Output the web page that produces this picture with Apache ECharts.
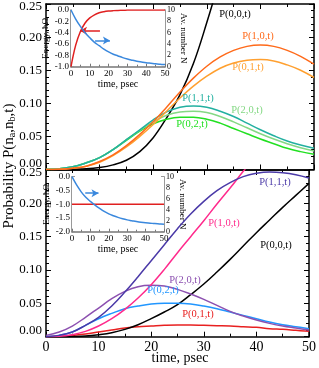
<!DOCTYPE html>
<html><head><meta charset="utf-8">
<script src="https://cdn.jsdelivr.net/npm/echarts@6/dist/echarts.min.js"></script>
<style>html,body{margin:0;padding:0;background:#fff}#c{width:319px;height:368px}</style>
</head><body><div id="c"></div>
<script>
// ---- data ----
const times = [0,2.5,5,7.5,10,12.5,15,17.5,20,22.5,25,27.5,30,32.5,35,37.5,40,42.5,45,47.5,50];
// top panel
const topP000 = [0,0,0.0005,0.001,0.003,0.007,0.014,0.027,0.048,0.078,0.113,0.16,0.222,0.29];
const topP100 = [0,0.0003,0.002,0.005,0.012,0.022,0.036,0.053,0.072,0.094,0.117,0.138,0.156,0.170,0.180,0.186,0.188,0.186,0.180,0.171,0.159];
const topP010 = [0,0.0003,0.002,0.005,0.011,0.021,0.034,0.050,0.068,0.088,0.108,0.126,0.141,0.153,0.161,0.165,0.166,0.164,0.158,0.150,0.139];
const topP110 = [0,0.001,0.004,0.010,0.018,0.030,0.045,0.060,0.075,0.087,0.094,0.096,0.094,0.088,0.080,0.070,0.060,0.051,0.043,0.037,0.032];
const topP200 = [0,0.001,0.004,0.010,0.018,0.030,0.045,0.059,0.072,0.082,0.087,0.088,0.086,0.080,0.072,0.063,0.054,0.046,0.039,0.033,0.028];
const topP020 = [0,0.001,0.004,0.010,0.018,0.030,0.044,0.058,0.069,0.076,0.079,0.079,0.076,0.070,0.062,0.054,0.046,0.039,0.032,0.027,0.023];
// bottom panel
const botP110 = [0,0.002,0.007,0.017,0.029,0.046,0.067,0.090,0.114,0.138,0.162,0.184,0.203,0.219,0.231,0.240,0.245,0.247,0.246,0.243,0.238];
const botP100 = [0,0.0005,0.003,0.008,0.016,0.027,0.041,0.058,0.078,0.101,0.126,0.150,0.174,0.199,0.223,0.248,0.272];
const botP000 = [0,0,0.0003,0.001,0.003,0.006,0.011,0.018,0.027,0.037,0.048,0.063,0.079,0.097,0.116,0.136,0.156,0.175,0.194,0.212,0.230];
const botP200 = [0.002,0.007,0.016,0.029,0.043,0.057,0.068,0.075,0.077,0.076,0.071,0.064,0.056,0.047,0.038,0.031,0.025,0.020,0.016,0.013,0.010];
const botP020 = [0,0.002,0.007,0.017,0.027,0.035,0.042,0.046,0.049,0.050,0.050,0.049,0.046,0.042,0.037,0.032,0.027,0.022,0.018,0.015,0.012];
const botP010 = [0,0.0005,0.002,0.004,0.007,0.010,0.013,0.015,0.016,0.017,0.0175,0.0175,0.017,0.0165,0.016,0.015,0.014,0.012,0.011,0.0095,0.008];
// insets
const topEnergy = [-1,-0.62,-0.38,-0.23,-0.14,-0.085,-0.05,-0.03,-0.018,-0.011,-0.007,-0.004,-0.002,-0.001,0,0,0,0,0,0,0];
const topNumber = [10,8.4,7.1,6.0,5.1,4.3,3.7,3.1,2.6,2.2,1.9,1.6,1.35,1.15,0.97,0.83,0.7,0.6,0.5,0.43,0.37];
const botEnergy = [-1,-1,-1,-1,-1,-1,-1,-1,-1,-1,-1,-1,-1,-1,-1,-1,-1,-1,-1,-1,-1];
const botNumber = [10,8.5,7.25,6.25,5.5,4.85,4.25,3.7,3.25,2.9,2.6,2.35,2.15,2.0,1.85,1.72,1.62,1.55,1.47,1.42,1.37];
const xTicks = [0,10,20,30,40,50];

// ---- chart ----
const F = 'Liberation Serif';
const pairs = arr => arr.map((v,i)=>[times[i], v]);
function mainX(grid, pos, labels){
  return {gridIndex:grid, type:'value', position:pos, min:0, max:50, interval:10,
    axisLine:{show:true, onZero:false, lineStyle:{color:'#000', width:1.5}},
    axisTick:{show:true, inside:true, length:5, lineStyle:{color:'#000'}},
    minorTick:{show:true, splitNumber:2, length:3, lineStyle:{color:'#000'}},
    axisLabel:{show:labels, fontFamily:F, fontSize:14, color:'#000', margin:4},
    splitLine:{show:false}};
}
function mainY(grid, pos, labels){
  return {gridIndex:grid, type:'value', position:pos, min:0, max:0.25, interval:0.05,
    axisLine:{show:true, onZero:false, lineStyle:{color:'#000', width:1.5}},
    axisTick:{show:true, inside:true, length:5, lineStyle:{color:'#000'}},
    minorTick:{show:true, splitNumber:5, length:3, lineStyle:{color:'#000'}},
    axisLabel:{show:labels, fontFamily:F, fontSize:13, color:'#000', margin:4,
      formatter: v => v===0 ? '{lo|0.00}' : (Math.abs(v-0.25)<1e-9 ? '{hi|0.25}' : v.toFixed(2)),
      rich:{lo:{fontFamily:F, fontSize:13, color:'#000', padding:[0,0,12,0]},
            hi:{fontFamily:F, fontSize:13, color:'#000', padding:[5,0,0,0]}}},
    splitLine:{show:false}};
}
const ic = '#777';
function insetX(grid){
  return {gridIndex:grid, type:'value', position:'bottom', min:0, max:50, interval:10,
    name:'time, psec', nameLocation:'middle', nameGap:13,
    nameTextStyle:{fontFamily:F, fontSize:10, color:'#000'},
    axisLine:{show:true, onZero:false, lineStyle:{color:ic, width:1.5}},
    axisTick:{show:true, inside:true, length:3, lineStyle:{color:ic}},
    minorTick:{show:true, splitNumber:2, length:2, lineStyle:{color:ic}},
    axisLabel:{fontFamily:F, fontSize:9, color:'#000', margin:2},
    splitLine:{show:false}};
}
function insetYL(grid, min, interval){
  return {gridIndex:grid, type:'value', position:'left', min:min, max:0, interval:interval,
    name:'Energy, ħΩ', nameLocation:'middle', nameGap:21, nameRotate:90,
    nameTextStyle:{fontFamily:F, fontSize:9, color:'#000'},
    axisLine:{show:true, onZero:false, lineStyle:{color:ic, width:1.5}},
    axisTick:{show:true, inside:true, length:3, lineStyle:{color:ic}},
    axisLabel:{fontFamily:F, fontSize:9, color:'#000', margin:2, formatter:v=>v.toFixed(1)},
    splitLine:{show:false}};
}
function insetYR(grid){
  return {gridIndex:grid, type:'value', position:'right', min:0, max:10, interval:2,
    name:'Av. number N', nameLocation:'middle', nameGap:12, nameRotate:-90,
    nameTextStyle:{fontFamily:F, fontSize:9, color:'#000'},
    axisLine:{show:true, onZero:false, lineStyle:{color:ic, width:1.5}},
    axisTick:{show:true, inside:true, length:3, lineStyle:{color:ic}},
    axisLabel:{fontFamily:F, fontSize:8, color:'#000', margin:2},
    splitLine:{show:false}};
}
function ln(name, xi, yi, arr, color, extra){
  return Object.assign({name, type:'line', xAxisIndex:xi, yAxisIndex:yi, data:pairs(arr),
    showSymbol:false, smooth:0.4, clip:true, lineStyle:{color, width:1.5}, itemStyle:{color}}, extra||{});
}
function arrow(color, from, to){
  return {markLine:{silent:true, symbol:['none','arrow'], symbolSize:[6,7], label:{show:false},
    lineStyle:{color, width:1.5, type:'solid'}, data:[[{coord:from},{coord:to}]]}};
}
function txt(x,y,s,color){
  return {type:'text', x, y, style:{text:s, fill:color, font:'10.5px "Liberation Serif"', textAlign:'center', textVerticalAlign:'middle'}, z:50};
}
const cTop = {p000:'#000', p100:'#ff6a1a', p010:'#ffa030', p110:'#22b0a0', p200:'#84d884', p020:'#22e022'};
const cBot = {p110:'#4b3aa8', p100:'#ff2a8c', p000:'#000', p200:'#8c50b0', p020:'#2196ff', p010:'#e82020'};
const insRed = '#e02020', insBlue = '#3a88dd';

const chart = echarts.init(document.getElementById('c'), null, {renderer:'canvas'});
chart.setOption({
  animation:false,
  backgroundColor:'#fff',
  grid:[
    {left:46, right:5, top:3, height:166.5},
    {left:46, right:5, top:170, height:166.7},
    {left:71, top:10, width:94, height:56.7, show:true, backgroundColor:'#fff', borderWidth:0, z:5},
    {left:72, top:176.7, width:92, height:55, show:true, backgroundColor:'#fff', borderWidth:0, z:5}
  ],
  xAxis:[mainX(0,'bottom',false), mainX(0,'top',false), mainX(1,'bottom',true), mainX(1,'top',false),
    Object.assign(insetX(2),{z:6}), Object.assign(insetX(3),{z:6})],
  yAxis:[mainY(0,'left',true), mainY(0,'right',false), mainY(1,'left',true), mainY(1,'right',false),
    insetYL(2,-1,0.2), insetYR(2), insetYL(3,-2,0.5), insetYR(3)],
  series:[
    ln('P(0,0,t)',0,0,topP000,cTop.p000),
    ln('P(0,2,t)',0,0,topP020,cTop.p020),
    ln('P(2,0,t)',0,0,topP200,cTop.p200),
    ln('P(1,1,t)',0,0,topP110,cTop.p110),
    ln('P(0,1,t)',0,0,topP010,cTop.p010),
    ln('P(1,0,t)',0,0,topP100,cTop.p100),
    ln('P(0,1,t) b',2,2,botP010,cBot.p010),
    ln('P(0,0,t) b',2,2,botP000,cBot.p000),
    ln('P(0,2,t) b',2,2,botP020,cBot.p020),
    ln('P(2,0,t) b',2,2,botP200,cBot.p200),
    ln('P(1,0,t) b',2,2,botP100,cBot.p100),
    ln('P(1,1,t) b',2,2,botP110,cBot.p110),
    ln('E top',4,4,topEnergy,insRed, Object.assign({z:10}, arrow(insRed,[15.4,-0.365],[4.8,-0.365]))),
    ln('N top',4,5,topNumber,insBlue, Object.assign({z:10}, arrow(insBlue,[12.8,4.6],[20.7,4.6]))),
    ln('E bot',5,6,botEnergy,insRed, {z:10, smooth:false}),
    ln('N bot',5,7,botNumber,insBlue, Object.assign({z:10}, arrow(insBlue,[7.2,7.0],[14.4,7.0])))
  ],
  graphic:[
    {type:'text', x:9, y:166, rotation:Math.PI/2,
      style:{text:'Probability P(n{s|a},n{s|b},t)', fill:'#000', font:'15px "Liberation Serif"',
        textAlign:'center', textVerticalAlign:'middle',
        rich:{s:{fontSize:10, fontFamily:F, verticalAlign:'bottom', padding:[6,0,0,0]}}}},
    {type:'text', x:180, y:358, style:{text:'time, psec', fill:'#000', font:'14px "Liberation Serif"', textAlign:'center', textVerticalAlign:'middle'}},
    txt(235,14,'P(0,0,t)',cTop.p000),
    txt(258,36,'P(1,0,t)',cTop.p100),
    txt(248,67,'P(0,1,t)',cTop.p010),
    txt(198,98,'P(1,1,t)',cTop.p110),
    txt(247,110,'P(2,0,t)',cTop.p200),
    txt(192,124,'P(0,2,t)',cTop.p020),
    txt(275,182,'P(1,1,t)',cBot.p110),
    txt(224,223,'P(1,0,t)',cBot.p100),
    txt(276,245,'P(0,0,t)',cBot.p000),
    txt(185,280,'P(2,0,t)',cBot.p200),
    txt(163,290,'P(0,2,t)',cBot.p020),
    txt(198,314,'P(0,1,t)',cBot.p010)
  ]
});
</script></body></html>
